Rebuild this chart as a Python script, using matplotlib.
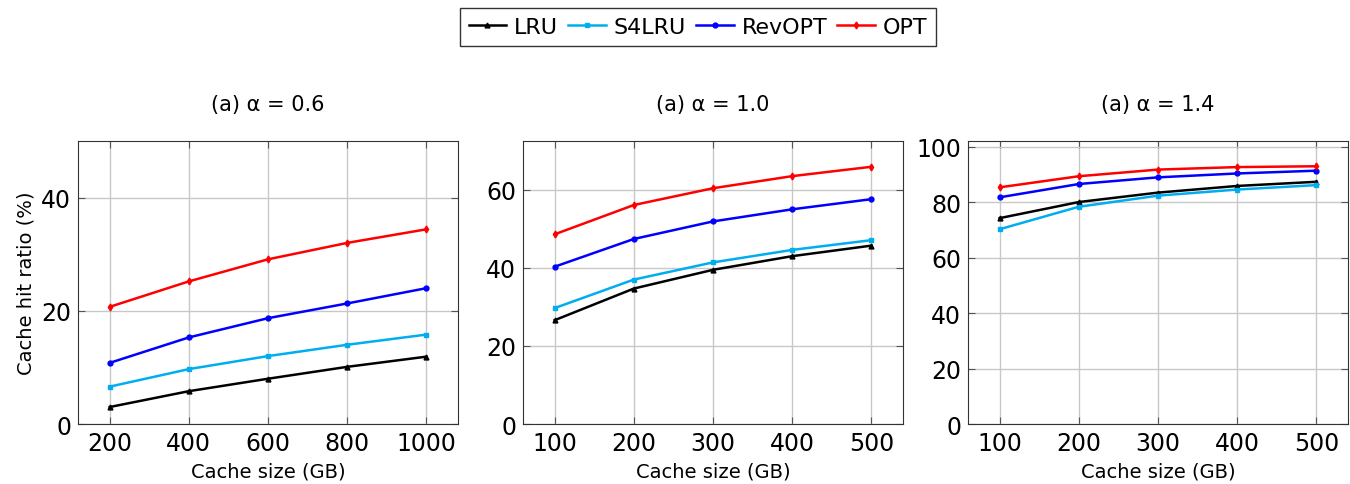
import matplotlib
matplotlib.use('Agg')
import matplotlib.pyplot as plt
from matplotlib.lines import Line2D

plt.rcParams['font.family'] = ['DejaVu Sans']

# ── data ──────────────────────────────────────────────────
x_a = [200, 400, 600, 800, 1000]
x_b = [100, 200, 300, 400, 500]

lru_06    = [3.0, 5.8, 8.0, 10.1, 11.9]
s4lru_06  = [6.6, 9.7, 12.0, 14.0, 15.8]
revopt_06 = [10.8, 15.3, 18.7, 21.3, 24.0]
opt_06    = [20.7, 25.2, 29.1, 32.0, 34.4]

lru_10    = [26.6, 34.7, 39.5, 43.0, 45.7]
s4lru_10  = [29.7, 37.0, 41.4, 44.6, 47.1]
revopt_10 = [40.3, 47.4, 51.9, 55.0, 57.6]
opt_10    = [48.6, 56.1, 60.4, 63.5, 65.9]

lru_14    = [74.2, 80.0, 83.4, 85.8, 87.3]
s4lru_14  = [70.2, 78.3, 82.3, 84.5, 86.1]
revopt_14 = [81.7, 86.5, 88.9, 90.3, 91.3]
opt_14    = [85.3, 89.3, 91.7, 92.6, 92.9]

titles = ['(a) α = 0.6', '(a) α = 1.0', '(a) α = 1.4']
names  = ['LRU', 'S4LRU', 'RevOPT', 'OPT']
colors = ['#000000', '#00AEEF', '#0000FF', '#FF0000']
marks  = ['^', 's', 'o', 'd']

panels = [
    (x_a, [lru_06, s4lru_06, revopt_06, opt_06], (120, 1080), (0, 50), [0, 20, 40]),
    (x_b, [lru_10, s4lru_10, revopt_10, opt_10], (60, 540), (0, 72.5), [0, 20, 40, 60]),
    (x_b, [lru_14, s4lru_14, revopt_14, opt_14], (60, 540), (0, 102), [0, 20, 40, 60, 80, 100]),
]

fig = plt.figure(figsize=(13.5, 4.85), dpi=100)
lefts = [0.0578, 0.3874, 0.717]

for i, (xs, series, xl, yl, yt) in enumerate(panels):
    ax = fig.add_axes([lefts[i], 0.1237, 0.2815, 0.5835])
    for ys, c, m in zip(series, colors, marks):
        ax.plot(xs, ys, color=c, marker=m, markersize=3.5, linewidth=1.8, zorder=3)
    ax.set_xlim(*xl)
    ax.set_ylim(*yl)
    ax.set_xticks(xs)
    ax.set_yticks(yt)
    ax.grid(True, color='#C8C8C8', linewidth=1.0)
    ax.set_axisbelow(True)
    ax.tick_params(direction='in', top=True, right=True, labelsize=17,
                   length=5, color='#555555', pad=5)
    for s in ax.spines.values():
        s.set_color('#333333')
    ax.set_xlabel('Cache size (GB)', fontsize=14, labelpad=5)
    ax.set_title(titles[i], fontsize=15, pad=22)
    if i == 0:
        ax.set_ylabel('Cache hit ratio (%)', fontsize=14)

handles = [Line2D([], [], color=c, marker=m, markersize=3.5, linewidth=1.8)
           for c, m in zip(colors, marks)]
leg = fig.legend(handles, names, loc='upper center', bbox_to_anchor=(0.517, 0.99),
                 ncol=4, fontsize=16, frameon=True, fancybox=False,
                 handlelength=1.7, handletextpad=0.35, columnspacing=0.45,
                 borderpad=0.4, borderaxespad=0.2)
leg.get_frame().set_edgecolor('black')
leg.get_frame().set_linewidth(1.0)

fig.savefig('out.png', dpi=100)
